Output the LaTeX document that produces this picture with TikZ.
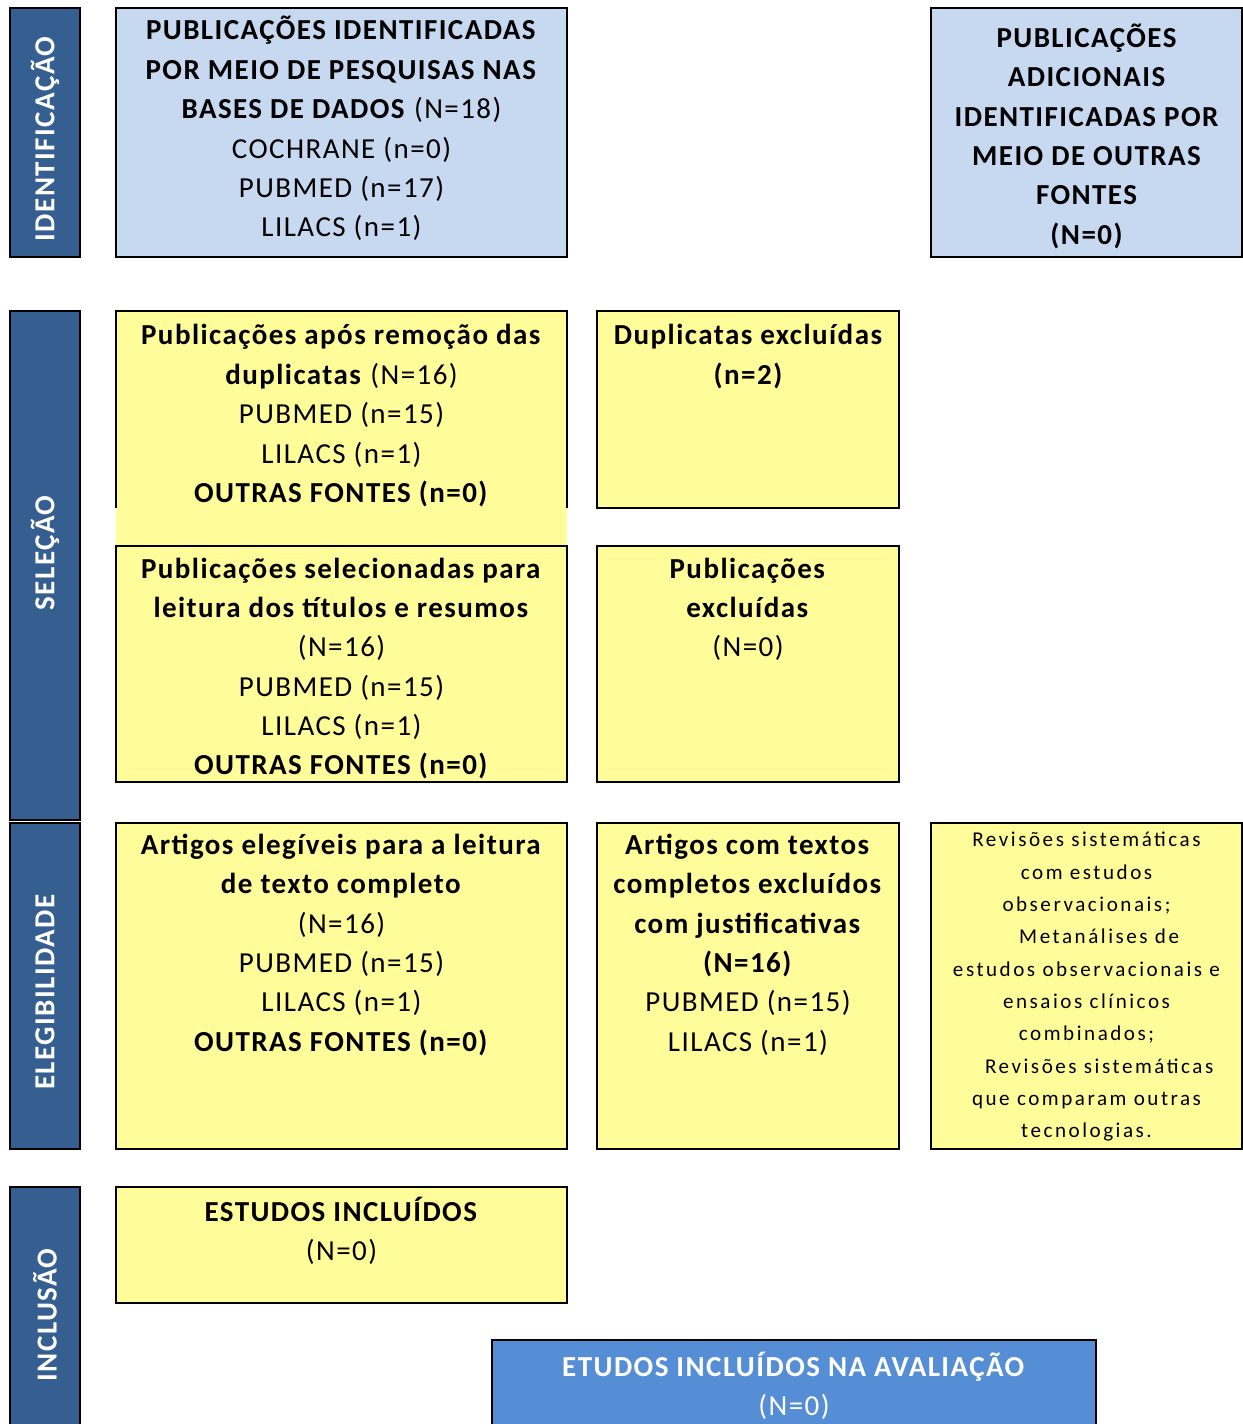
\documentclass[tikz,border=0pt]{standalone}
\usepackage{fontspec}
\setmainfont{Carlito}[LetterSpace=5]
\usetikzlibrary{fit}
\definecolor{barblue}{HTML}{355E91}
\definecolor{lightblue}{HTML}{C6D9F1}
\definecolor{paleyellow}{HTML}{FFFD99}
\definecolor{midblue}{HTML}{558ED5}

\begin{document}
\begin{tikzpicture}[x=0.02cm,y=-0.02cm]
      \tikzstyle{box}=[draw=black,line width=0.9pt,inner sep=0pt]
      \tikzstyle{blue box}=[box,fill=lightblue]
      \tikzstyle{yellow box}=[box,fill=paleyellow]
      \tikzstyle{phase}=[box,fill=barblue]
      \tikzstyle{phase label}=[rotate=90,text=white,font=\fontsize{16.5}{18}\selectfont\bfseries]
      \tikzstyle{txt}=[anchor=north,align=center,inner sep=0pt,execute at begin node=\strut,
                       font=\fontsize{16.5}{22.4}\selectfont]
      \tikzstyle{small txt}=[txt,font=\fontsize{12}{18.4}\selectfont\addfontfeature{LetterSpace=12}]

      \useasboundingbox (0,0) rectangle (1242,1424);

      % Draw the phase bars on the left
      \node[phase, fit={(10,8) (80,257)}] (P-id) {};
      \node[phase, fit={(10,311) (80,820)}] (P-sel) {};
      \node[phase, fit={(10,823) (80,1149)}] (P-ele) {};
      \node[phase, fit={(10,1187) (80,1430)}] (P-inc) {};
      \node[phase label] at (P-id.center |- 0,139) {IDENTIFICAÇÃO};
      \node[phase label] at (P-sel.center |- 0,553) {SELEÇÃO};
      \node[phase label] at (P-ele.center |- 0,992) {ELEGIBILIDADE};
      \node[phase label] at (P-inc.center |- 0,1315) {INCLUSÃO};

      % Identification boxes
      \node[blue box, fit={(116,8) (567,257)}] (id-db) {};
      \node[txt] (id-db-t) at ([yshift=-5pt]id-db.north) {\textbf{PUBLICAÇÕES IDENTIFICADAS}\\
            \textbf{POR MEIO DE PESQUISAS NAS}\\ \textbf{BASES DE DADOS} (N=18)\\
            COCHRANE (n=0)\\ PUBMED (n=17)\\ LILACS (n=1)};
      \node[blue box, fit={(931,8) (1242,257)}] (id-other) {};
      \node[txt, font=\fontsize{16.5}{22.4}\selectfont\bfseries] (id-other-t) at ([yshift=-9.3pt]id-other.north)
            {PUBLICAÇÕES\\ ADICIONAIS\\ IDENTIFICADAS POR\\ MEIO DE OUTRAS\\ FONTES\\ (N=0)};

      % Selection boxes (the first one is left open at the bottom)
      \node[yellow box, draw=none, fit={(116,311) (567,546)}] (S-dup) {};
      \draw[line width=0.9pt] (116,508) |- (567,311) -- (567,508);
      \node[txt] (S-dup-t) at ([yshift=-8pt]S-dup.north) {\textbf{Publicações após remoção das}\\
            \textbf{duplicatas} (N=16)\\ PUBMED (n=15)\\ LILACS (n=1)\\ \textbf{OUTRAS FONTES (n=0)}};
      \node[yellow box, fit={(597,311) (899,508)}] (X-dup) {};
      \node[txt, font=\fontsize{16.5}{22.4}\selectfont\bfseries] (X-dup-t) at ([yshift=-8pt]X-dup.north)
            {Duplicatas excluídas\\ (n=2)};
      \node[yellow box, fit={(116,546) (567,782)}] (S-tit) {};
      \node[txt] (S-tit-t) at ([yshift=-7pt]S-tit.north) {\textbf{Publicações selecionadas para}\\
            \textbf{leitura dos títulos e resumos}\\ (N=16)\\ PUBMED (n=15)\\ LILACS (n=1)\\
            \textbf{OUTRAS FONTES (n=0)}};
      \node[yellow box, fit={(597,546) (899,782)}] (X-tit) {};
      \node[txt] (X-tit-t) at ([yshift=-7pt]X-tit.north) {\textbf{Publicações}\\ \textbf{excluídas}\\ (N=0)};

      % Eligibility boxes
      \node[yellow box, fit={(116,823) (567,1149)}] (E-full) {};
      \node[txt] (E-full-t) at ([yshift=-6.5pt]E-full.north) {\textbf{Artigos elegíveis para a leitura}\\
            \textbf{de texto completo}\\ (N=16)\\ PUBMED (n=15)\\ LILACS (n=1)\\
            \textbf{OUTRAS FONTES (n=0)}};
      \node[yellow box, fit={(597,823) (899,1149)}] (X-full) {};
      \node[txt] (X-full-t) at ([yshift=-6.5pt]X-full.north) {\textbf{Artigos com textos}\\
            \textbf{completos excluídos}\\ \textbf{com justificativas}\\ \textbf{(N=16)}\\
            PUBMED (n=15)\\ LILACS (n=1)};
      \node[yellow box, fit={(931,823) (1242,1149)}] (X-why) {};
      \node[small txt] (X-why-t) at ([yshift=-5.5pt]X-why.north) {Revisões sistemáticas\\
            com estudos\\ observacionais;\\ \hspace*{1.2em}Metanálises de\\
            estudos observacionais e\\ ensaios clínicos\\ combinados;\\
            \hspace*{1.2em}Revisões sistemáticas\\ que comparam outras\\ tecnologias.};

      % Inclusion boxes
      \node[yellow box, fit={(116,1187) (567,1303)}] (I-inc) {};
      \node[txt] (I-inc-t) at ([yshift=-6pt]I-inc.north) {\textbf{ESTUDOS INCLUÍDOS}\\ (N=0)};
      \node[box, fill=midblue, fit={(492,1340) (1096,1430)}] (I-eval) {};
      \node[txt, text=white] (I-eval-t) at ([yshift=-7pt]I-eval.north)
            {\textbf{ETUDOS INCLUÍDOS NA AVALIAÇÃO}\\ (N=0)};
\end{tikzpicture}
\end{document}
